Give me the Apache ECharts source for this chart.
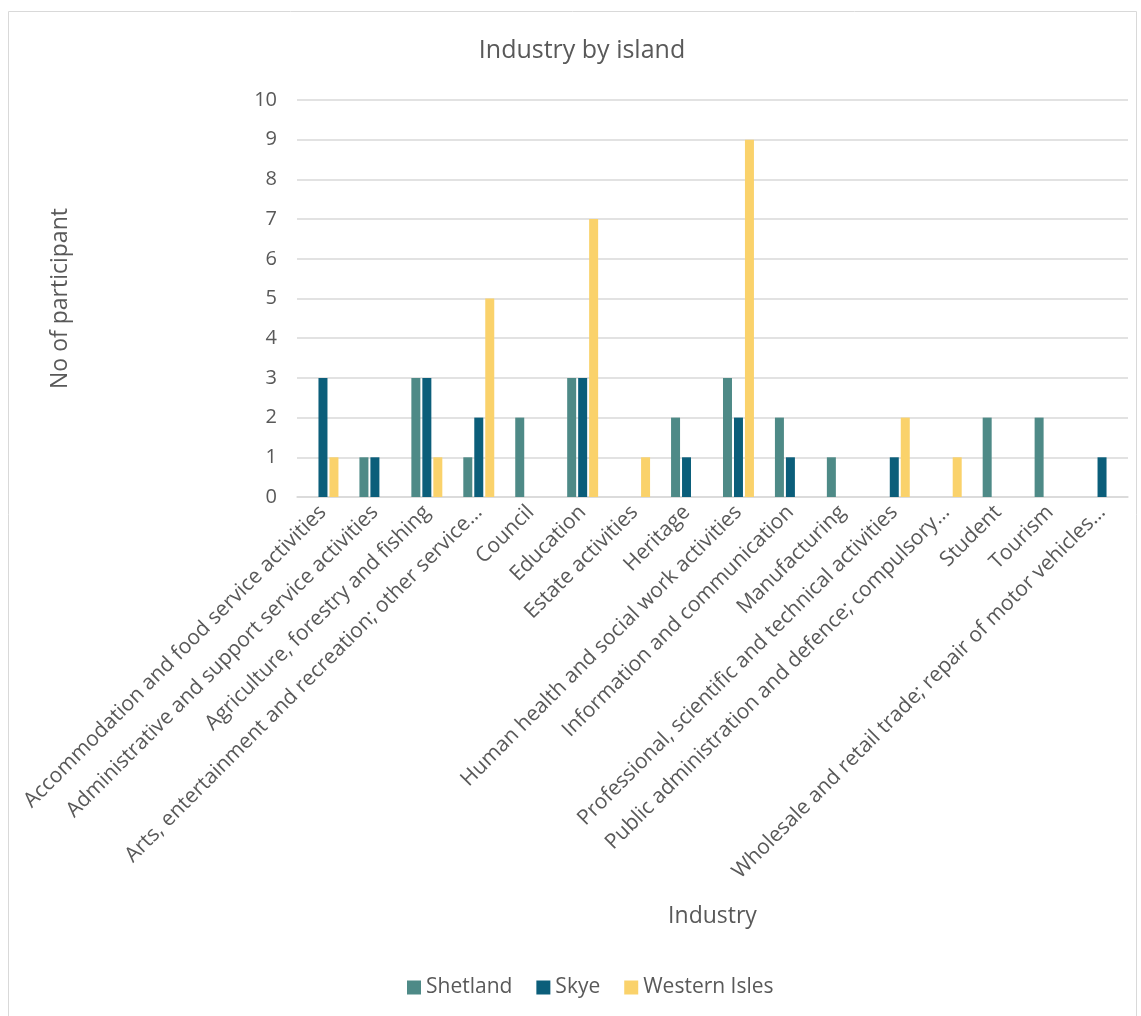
<!DOCTYPE html>
<html>
<head>
<meta charset="utf-8">
<script src="https://cdn.jsdelivr.net/npm/echarts@6/dist/echarts.min.js"></script>
<style>
html,body{margin:0;padding:0;background:#fff;}
#chart{width:1141px;height:1016px;}
</style>
</head>
<body>
<div id="chart"></div>
<script>
const categories = [
  "Accommodation and food service activities",
  "Administrative and support service activities",
  "Agriculture, forestry and fishing",
  "Arts, entertainment and recreation; other service…",
  "Council",
  "Education",
  "Estate activities",
  "Heritage",
  "Human health and social work activities",
  "Information and communication",
  "Manufacturing",
  "Professional, scientific and technical activities",
  "Public administration and defence; compulsory…",
  "Student",
  "Tourism",
  "Wholesale and retail trade; repair of motor vehicles…"
];
const shetland =     [0,1,3,1,2,3,0,2,3,2,1,0,0,2,2,0];
const skye =         [3,1,3,2,0,3,0,1,2,1,0,1,0,0,0,1];
const westernIsles = [1,0,1,5,0,7,1,0,9,0,0,2,1,0,0,0];
const seriesNames = ["Shetland","Skye","Western Isles"];
const colors = ["#4E8A87","#0B5E7A","#FAD26B"];

const FONT = "Open Sans";
const chart = echarts.init(document.getElementById('chart'));
const mk = (name, data, c) => ({
  name, type:'bar', data, barWidth:9, barGap:'22%',
  itemStyle:{color:c}
});
chart.setOption({
  animation:false,
  textStyle:{fontFamily:FONT},
  graphic:[{type:'rect', shape:{x:8.5,y:11.5,width:1128,height:1010}, style:{fill:'none', stroke:'#d9d9d9', lineWidth:1}, silent:true}],
  title:{text:'Industry by island', left:577, top:33, textAlign:'center',
    textStyle:{fontFamily:FONT, fontSize:25, fontWeight:'normal', color:'#595959'}},
  legend:{bottom:13, left:402, itemWidth:14, itemHeight:14, itemGap:24,
    icon:'rect',
    textStyle:{fontFamily:FONT, fontSize:21, color:'#595959'},
    data:seriesNames},
  grid:{left:297, top:100, width:831, height:397},
  xAxis:{type:'category', data:categories,
    name:'Industry', nameLocation:'middle', nameGap:408,
    nameTextStyle:{fontFamily:FONT, fontSize:23, color:'#595959'},
    axisLine:{lineStyle:{color:'#d9d9d9', width:1.5}},
    axisTick:{show:false},
    axisLabel:{interval:0, rotate:45, fontSize:21, color:'#595959', margin:12, fontFamily:FONT}},
  yAxis:{type:'value', min:0, max:10, interval:1,
    name:'No of participant', nameLocation:'middle', nameGap:225, nameRotate:90,
    nameTextStyle:{fontFamily:FONT, fontSize:23, color:'#595959'},
    axisLine:{show:false}, axisTick:{show:false},
    splitLine:{lineStyle:{color:'#d9d9d9', width:1.5}},
    axisLabel:{fontSize:20, color:'#595959', margin:20, fontFamily:FONT}},
  series:[mk(seriesNames[0], shetland, colors[0]), mk(seriesNames[1], skye, colors[1]), mk(seriesNames[2], westernIsles, colors[2])]
});
</script>
</body>
</html>
